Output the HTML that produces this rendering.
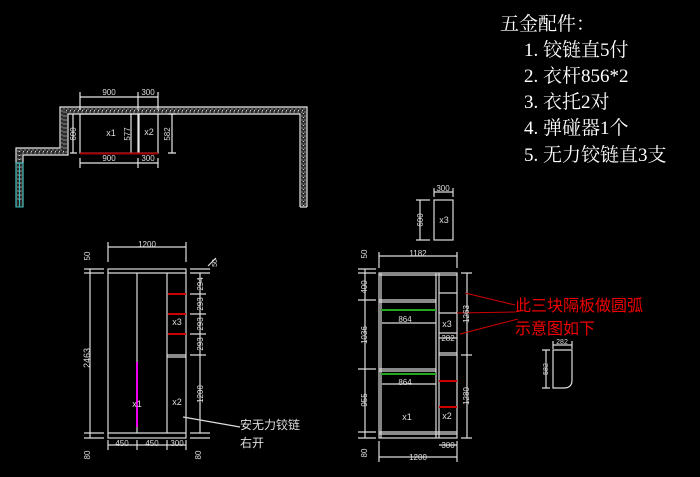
<!DOCTYPE html>
<html><head><meta charset="utf-8"><style>
html,body{margin:0;padding:0;background:#000;width:700px;height:477px;overflow:hidden}
svg{display:block}
.t{font-family:"Liberation Sans","Noto Sans CJK SC",sans-serif;fill:#ddd}
.s{font-family:"Liberation Serif","Noto Serif CJK SC",serif;fill:#fff}
</style></head><body>
<svg width="700" height="477" viewBox="0 0 700 477" xmlns="http://www.w3.org/2000/svg">
<g class="s" font-size="19">
<text x="500" y="30">五金配件：</text>
<text x="524" y="56">1. 铰链直5付</text>
<text x="524" y="82">2. 衣杆856*2</text>
<text x="524" y="108">3. 衣托2对</text>
<text x="524" y="134">4. 弹碰器1个</text>
<text x="524" y="161">5. 无力铰链直3支</text>
</g>
<!-- plan -->
<path d="M19.5 207 V151.5 H64 V110.5 H303.5 V207" fill="none" stroke="#2a2a2a" stroke-width="7"/>
<g fill="none" stroke="#ccc" stroke-width="1.3" stroke-dasharray="1 3"><path d="M19.5 200 V151.5 H64 V110.5 H303.5 V207"/></g>
<g fill="none" stroke="#888" stroke-width="1" stroke-dasharray="2 2"><path d="M18 200 V150 H62 V109 H305 V205"/><path d="M21 200 V153 H66 V112 H302 V205"/></g>
<g fill="none" stroke="#e6e6e6" stroke-width="1.2">
<path d="M16 207 V148 H60 V107 H307 V207"/>
<path d="M23 207 V155 H68 V114 H300 V207"/>
<path d="M300 207 H307"/>
<rect x="80" y="114" width="58" height="39"/>
<rect x="139" y="114" width="19" height="39"/>
<path d="M80 97 H158 M80 92 V110 M138 92 V110 M158 92 V110"/>
<path d="M80 163 H158 M80 158 V168 M138 158 V168 M158 158 V168"/>
<path d="M73 114 V153 M131 114 V153 M172 114 V153 M168 153 H176 M168 114 H176 M70 153 H77"/>
</g>
<rect x="16" y="163" width="7" height="44" fill="none" stroke="#3bb" />
<line x1="19.5" y1="163" x2="19.5" y2="207" stroke="#3bb"/>
<line x1="80" y1="153.5" x2="158" y2="153.5" stroke="#a00" stroke-width="2"/>
<g class="t" font-size="8">
<text x="109" y="95" text-anchor="middle">900</text><text x="148" y="95" text-anchor="middle">300</text>
<text x="109" y="161" text-anchor="middle">900</text><text x="148" y="161" text-anchor="middle">300</text>
<text x="111" y="136" text-anchor="middle" font-size="9">x1</text><text x="149" y="135" text-anchor="middle" font-size="9">x2</text>
<text transform="translate(76,134) rotate(-90)" text-anchor="middle">600</text>
<text transform="translate(130,134) rotate(-90)" text-anchor="middle">577</text>
<text transform="translate(170,134) rotate(-90)" text-anchor="middle">582</text>
</g>
<!-- elevation 1 -->
<g fill="none" stroke="#ddd" stroke-width="1.2">
<rect x="108" y="269" width="78" height="169"/>
<path d="M108 273 H186 M108 433 H186 M137 273 V433 M167 273 V433"/>
<path d="M167 355 H186 M167 357 H186"/>
<path d="M108 247 H186 M108 242 V262 M186 242 V262"/>
<path d="M90 269 V438 M84 269 H104 M84 273 H104 M84 433 H104 M84 438 H104"/>
<path d="M200 273 V355 M200 355 V433 M190 269 H210 M190 273 H210 M190 294 H206 M190 314 H206 M190 334 H206 M190 355 H206 M190 433 H210 M190 438 H210"/>
<path d="M108 445 H186 M108 440 V450 M137 440 V450 M167 440 V450 M186 440 V450"/>
<path d="M183 417 L240 427"/>
<path d="M208 266 L216 258"/>
</g>
<g stroke="#c00" stroke-width="2"><path d="M168 294 H186 M168 314 H186 M168 334 H186"/></g>
<line x1="137" y1="362" x2="137" y2="427" stroke="#e0e" stroke-width="2"/>
<g class="t" font-size="8">
<text x="147" y="247" text-anchor="middle">1200</text>
<text x="122" y="446" text-anchor="middle">450</text><text x="152" y="446" text-anchor="middle">450</text><text x="177" y="446" text-anchor="middle">300</text>
<text transform="translate(90,358) rotate(-90)" text-anchor="middle" font-size="9">2463</text>
<text transform="translate(90,256) rotate(-90)" text-anchor="middle">50</text>
<text transform="translate(90,455) rotate(-90)" text-anchor="middle">80</text>
<text transform="translate(201,455) rotate(-90)" text-anchor="middle">80</text>
<text transform="translate(217,263) rotate(-90)" text-anchor="middle" font-size="7">50</text>
<text transform="translate(203,284) rotate(-90)" text-anchor="middle">294</text>
<text transform="translate(203,304) rotate(-90)" text-anchor="middle">293</text>
<text transform="translate(203,324) rotate(-90)" text-anchor="middle">293</text>
<text transform="translate(203,344) rotate(-90)" text-anchor="middle">293</text>
<text transform="translate(203,394) rotate(-90)" text-anchor="middle">1200</text>
<text x="137" y="407" text-anchor="middle" font-size="9">x1</text>
<text x="177" y="405" text-anchor="middle" font-size="9">x2</text>
<text x="177" y="325" text-anchor="middle" font-size="9">x3</text>
</g>
<g class="t" font-size="12" fill="#ddd"><text x="240" y="429">安无力铰链</text><text x="240" y="447">右开</text></g>
<!-- x3 small -->
<g fill="none" stroke="#ddd" stroke-width="1.2">
<rect x="434" y="200" width="19" height="40"/>
<path d="M434 192 H453 M434 188 V197 M453 188 V197 M420 200 V240 M416 200 H430 M416 240 H430"/>
</g>
<g class="t" font-size="8">
<text x="443" y="191" text-anchor="middle">300</text>
<text x="444" y="223" text-anchor="middle" font-size="9">x3</text>
<text transform="translate(423,220) rotate(-90)" text-anchor="middle">600</text>
</g>
<!-- elevation 2 -->
<g fill="none" stroke="#ddd" stroke-width="1.2">
<rect x="379" y="273" width="78" height="165"/>
<path d="M381 273 V438 M436 273 V438 M439 273 V438"/>
<path d="M379 275 H457 M379 300 H436 M379 302 H436 M379 369 H436 M379 371 H436 M379 432 H457 M379 434 H457"/>
<path d="M439 293 H457 M439 313 H457 M439 333 H457 M439 353 H457 M439 355 H457"/>
<path d="M379 256 H457 M379 252 V268 M457 252 V268"/>
<path d="M365 269 V438 M358 269 H376 M358 273 H376 M358 300 H376 M358 369 H376 M358 432 H376 M358 438 H376"/>
<path d="M467 273 V355 V438 M461 273 H472 M461 355 H472 M461 438 H472"/>
<path d="M379 457 H457 M379 441 V462 M457 441 V462 M439 445 H457"/>
<path d="M382 323 H436 M382 384 H436 M439 338 H457"/>
</g>
<g stroke="#2a2" stroke-width="2"><path d="M381 310 H436 M381 374 H436"/></g>
<g stroke="#c00" stroke-width="2"><path d="M439 381 H457 M439 407 H457"/></g>
<g stroke="#c00" stroke-width="1"><path d="M465 293 L515 305 M457 313 L515 312 M460 334 L518 319"/></g>
<g class="t" font-size="8">
<text x="418" y="256" text-anchor="middle">1182</text>
<text x="418" y="460" text-anchor="middle">1200</text>
<text x="448" y="448" text-anchor="middle">300</text>
<text x="405" y="322" text-anchor="middle">864</text>
<text x="405" y="385" text-anchor="middle">864</text>
<text x="448" y="341" text-anchor="middle">282</text>
<text x="407" y="420" text-anchor="middle" font-size="9">x1</text>
<text x="447" y="419" text-anchor="middle" font-size="9">x2</text>
<text x="447" y="327" text-anchor="middle" font-size="9">x3</text>
<text transform="translate(367,254) rotate(-90)" text-anchor="middle">50</text>
<text transform="translate(367,287) rotate(-90)" text-anchor="middle">400</text>
<text transform="translate(367,335) rotate(-90)" text-anchor="middle">1036</text>
<text transform="translate(367,400) rotate(-90)" text-anchor="middle">955</text>
<text transform="translate(367,453) rotate(-90)" text-anchor="middle">80</text>
<text transform="translate(469,314) rotate(-90)" text-anchor="middle">1263</text>
<text transform="translate(469,396) rotate(-90)" text-anchor="middle">1280</text>
</g>
<g font-family="'Liberation Sans','Noto Sans CJK SC',sans-serif" font-size="16" fill="#e00">
<text x="515" y="311">此三块隔板做圆弧</text><text x="515" y="334">示意图如下</text>
</g>
<g fill="none" stroke="#ddd" stroke-width="1.2">
<path d="M553 350 H572 V380 Q572 388 564 388 H553 Z"/>
<path d="M553 345 H572 M553 341 V349 M572 341 V349 M546 350 V388 M542 350 H550 M542 388 H550"/>
</g>
<g class="t" font-size="7">
<text x="562" y="344" text-anchor="middle">282</text>
<text transform="translate(548,369) rotate(-90)" text-anchor="middle">582</text>
</g>
</svg>
</body></html>
